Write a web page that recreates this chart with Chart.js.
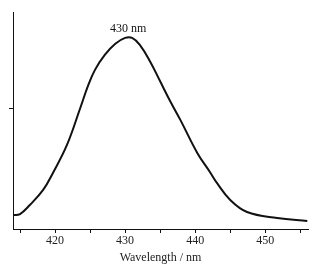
<!DOCTYPE html>
<html>
<head>
<meta charset="utf-8">
<script src="https://cdn.jsdelivr.net/npm/chart.js@4"></script>
<style>
  html, body { margin: 0; padding: 0; background: #fff; }
  #wrap { width: 323px; height: 269px; }
</style>
</head>
<body>
<div id="wrap"><canvas id="emissionChart" width="323" height="269"></canvas></div>
<script>
// spectrum (wavelength in nm, intensity in a.u.)
const wavelengths = [414.0, 415.0, 416.4, 418.3, 419.7, 421.7, 423.6, 424.7, 425.7, 427.1, 428.6, 430.0, 431.0, 432.1, 433.6, 435.0, 436.4, 437.9, 440.3, 442.1, 443.1, 445.0, 447.4, 451.7, 456.0];
const intensity = [0.116, 0.124, 0.199, 0.324, 0.465, 0.697, 1.004, 1.187, 1.320, 1.444, 1.536, 1.585, 1.585, 1.527, 1.386, 1.225, 1.064, 0.903, 0.631, 0.473, 0.382, 0.241, 0.141, 0.091, 0.066];
const xTicks = [415, 420, 425, 430, 435, 440, 445, 450, 455];
const xLabels = [420, 430, 440, 450];
const yTicks = [1];
const peakLabel = '430 nm';

const serif = 'Liberation Serif, Times New Roman, serif';

// writes the peak label just above the highest point
const peakLabelPlugin = {
    id: 'peakLabel',
    afterDatasetsDraw(chart) {
        const xs = chart.scales.x, ys = chart.scales.y;
        let iMax = 0;
        intensity.forEach((v, i) => { if (v > intensity[iMax]) iMax = i; });
        const ctx = chart.ctx;
        ctx.save();
        ctx.font = '12px ' + serif;
        ctx.fillStyle = '#111';
        ctx.textAlign = 'center';
        ctx.textBaseline = 'bottom';
        ctx.fillText(peakLabel, xs.getPixelForValue(wavelengths[iMax]) + 3, ys.getPixelForValue(intensity[iMax]) - 3);
        ctx.restore();
    }
};

const ctx = document.getElementById('emissionChart');
new Chart(ctx, {
    type: 'line',
    data: {
        datasets: [{
            data: wavelengths.map((w, i) => ({ x: w, y: intensity[i] })),
            borderColor: '#111',
            borderWidth: 2,
            pointRadius: 0,
            fill: false,
            tension: 0.4
        }]
    },
    options: {
        responsive: false,
        animation: false,
        layout: { padding: { top: 12, right: 15, left: 0, bottom: 4 } },
        plugins: { legend: { display: false }, tooltip: { enabled: false } },
        scales: {
            x: {
                type: 'linear',
                min: 414,
                max: 456.1,
                afterBuildTicks: (scale) => { scale.ticks = xTicks.map(v => ({ value: v })); },
                afterFit: (scale) => { scale.height = 36; },
                grid: { drawOnChartArea: false, drawTicks: true, tickLength: 4, tickColor: '#111' },
                border: { color: '#111', width: 1 },
                ticks: {
                    autoSkip: false,
                    maxRotation: 0,
                    padding: 1,
                    color: '#222',
                    font: { family: serif, size: 12 },
                    callback: (v) => xLabels.includes(v) ? String(v) : ''
                },
                title: {
                    display: true,
                    text: 'Wavelength / nm',
                    color: '#222',
                    font: { family: serif, size: 12 },
                    padding: { top: 0, bottom: 0 }
                }
            },
            y: {
                min: 0,
                max: 1.8,
                afterBuildTicks: (scale) => { scale.ticks = yTicks.map(v => ({ value: v })); },
                afterFit: (scale) => { scale.width = 13; },
                grid: { drawOnChartArea: false, drawTicks: true, tickLength: 4, tickColor: '#111' },
                border: { color: '#111', width: 1 },
                ticks: { display: false }
            }
        }
    },
    plugins: [peakLabelPlugin]
});
</script>
</body>
</html>
